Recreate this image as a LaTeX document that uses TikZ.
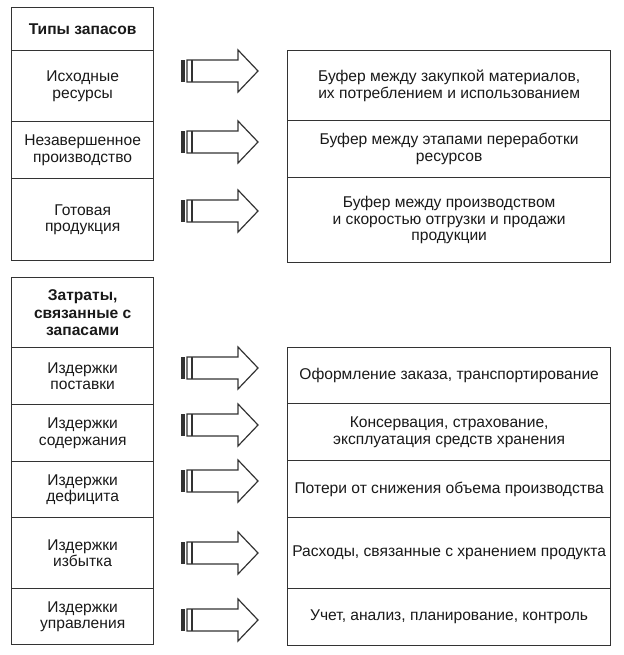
\documentclass[tikz,border=0pt]{standalone}
\usepackage{fontspec}
\setmainfont{Liberation Sans}
\begin{document}
\begin{tikzpicture}[x=1pt,y=-1pt,
  cell/.style={draw=black!80, line width=1.3pt, anchor=north west, inner sep=0pt,
    minimum width=142pt, align=center, text=black!90,
    font=\fontsize{15.6}{16.8}\selectfont},
  wcell/.style={cell, minimum width=323pt},
  hcell/.style={cell, font=\fontsize{15.6}{17.8}\selectfont\bfseries},
  bigarrow/.pic={
    \fill[black!80] (0,-11) rectangle (4,11);
    \draw[black!80, line width=1.2pt, line join=miter] (6,-11) -- (57,-11) -- (57,-21) -- (77,0) -- (57,21) -- (57,11) -- (6,11) -- cycle;
    \draw[black!80, line width=1.2pt] (11,-11) -- (11,11);
  }]
\useasboundingbox (0,0) rectangle (623,655);
% top left
\node[hcell, minimum height=43pt] (h1) at (11,7) {Типы запасов};
\node[cell, minimum height=71pt] (a1) at (11,50) {Исходные\\ресурсы};
\node[cell, minimum height=57pt] (a2) at (11,121) {Незавершенное\\производство};
\node[cell, minimum height=82pt] (a3) at (11,178) {Готовая\\продукция};
% top right
\node[wcell, minimum height=70pt] (b1) at (287,50) {Буфер между закупкой материалов,\\их потреблением и использованием};
\node[wcell, minimum height=57pt] (b2) at (287,120) {Буфер между этапами переработки\\ресурсов};
\node[wcell, minimum height=85pt] (b3) at (287,177) {Буфер между производством\\и скоростью отгрузки и продажи\\продукции};
% bottom left
\node[hcell, minimum height=70pt] (h2) at (11,277) {Затраты,\\связанные с\\запасами};
\node[cell, minimum height=57pt] (c1) at (11,347) {Издержки\\поставки};
\node[cell, minimum height=57pt] (c2) at (11,404) {Издержки\\содержания};
\node[cell, minimum height=56pt] (c3) at (11,461) {Издержки\\дефицита};
\node[cell, minimum height=71pt] (c4) at (11,517) {Издержки\\избытка};
\node[cell, minimum height=56pt] (c5) at (11,588) {Издержки\\управления};
% bottom right
\node[wcell, minimum height=56pt] (d1) at (287,347) {Оформление заказа, транспортирование};
\node[wcell, minimum height=57pt] (d2) at (287,403) {Консервация, страхование,\\эксплуатация средств хранения};
\node[wcell, minimum height=57pt] (d3) at (287,460) {Потери от снижения объема производства};
\node[wcell, minimum height=71pt] (d4) at (287,517) {Расходы, связанные с хранением продукта};
\node[wcell, minimum height=57pt] (d5) at (287,588) {Учет, анализ, планирование, контроль};
% arrows
\pic (ar1) at (181,71) {bigarrow};
\pic (ar2) at (181,142) {bigarrow};
\pic (ar3) at (181,211) {bigarrow};
\pic (ar4) at (181,368) {bigarrow};
\pic (ar5) at (181,425) {bigarrow};
\pic (ar6) at (181,481) {bigarrow};
\pic (ar7) at (181,553) {bigarrow};
\pic (ar8) at (181,620) {bigarrow};
\end{tikzpicture}
\end{document}
